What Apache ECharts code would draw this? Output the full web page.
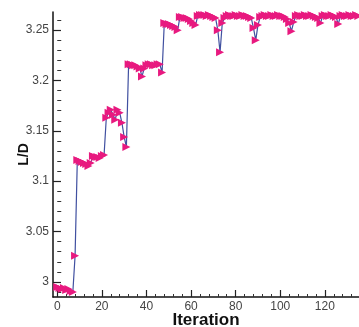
<!DOCTYPE html>
<html>
<head>
<meta charset="utf-8">
<script src="https://cdn.jsdelivr.net/npm/echarts@6/dist/echarts.min.js"></script>
<style>
  html, body { margin: 0; padding: 0; background: #fff; }
  #chart { width: 359px; height: 327px; }
</style>
</head>
<body>
<div id="chart"></div>
<script>
// L/D per iteration
const ldValues = [
  2.995, 2.994, 2.993, 2.994, 2.992, 2.993, 2.991, 2.990, 3.026, 3.121,
  3.120, 3.119, 3.118, 3.117, 3.115, 3.118, 3.125, 3.124, 3.124, 3.123,
  3.125, 3.126, 3.163, 3.168, 3.171, 3.166, 3.161, 3.171, 3.168, 3.158,
  3.144, 3.134, 3.216, 3.216, 3.215, 3.215, 3.214, 3.212, 3.204, 3.212,
  3.215, 3.216, 3.216, 3.215, 3.215, 3.216, 3.216, 3.208, 3.257, 3.256,
  3.256, 3.255, 3.254, 3.253, 3.250, 3.263, 3.263, 3.262, 3.262, 3.261,
  3.259, 3.257, 3.255, 3.264, 3.265, 3.265, 3.265, 3.264, 3.265, 3.264,
  3.263, 3.262, 3.250, 3.228, 3.257, 3.262, 3.264, 3.265, 3.264, 3.264,
  3.265, 3.264, 3.264, 3.265, 3.264, 3.264, 3.263, 3.262, 3.252, 3.240,
  3.255, 3.263, 3.264, 3.265, 3.264, 3.264, 3.265, 3.264, 3.264, 3.265,
  3.264, 3.264, 3.263, 3.261, 3.257, 3.249, 3.258, 3.264, 3.265, 3.264,
  3.264, 3.265, 3.264, 3.264, 3.265, 3.264, 3.263, 3.262, 3.257, 3.264,
  3.265, 3.264, 3.264, 3.265, 3.264, 3.263, 3.256, 3.264, 3.265, 3.264,
  3.264, 3.265, 3.264, 3.264, 3.265, 3.264
];
const iterations = ldValues.map((v, i) => i);

const yTicks = [3, 3.05, 3.1, 3.15, 3.2, 3.25];
const yMinorTicks = [2.99, 3.01, 3.02, 3.03, 3.04, 3.06, 3.07, 3.08, 3.09,
  3.11, 3.12, 3.13, 3.14, 3.16, 3.17, 3.18, 3.19, 3.21, 3.22, 3.23, 3.24, 3.26];
const xTicks = [0, 20, 40, 60, 80, 100, 120];
const xMinorTicks = [4, 8, 12, 16, 24, 28, 32, 36, 44, 48, 52, 56, 64, 68, 72, 76,
  84, 88, 92, 96, 104, 108, 112, 116, 124, 128, 132];

const Y_MIN = 2.985, Y_MAX = 3.268;
const X_MIN = -1.9, X_MAX = 135.3;

const myChart = echarts.init(document.getElementById("chart"));

const labelStyle = {
  color: "#444",
  fontSize: 12,
  fontFamily: "Liberation Sans, Arial, sans-serif"
};

myChart.setOption({
  animation: false,
  grid: { left: 53, right: 0, top: 12, bottom: 30, outerBoundsMode: "none", containLabel: false },
  xAxis: [
    {
      type: "value",
      min: X_MIN,
      max: X_MAX,
      name: "Iteration",
      nameLocation: "middle",
      nameGap: 15,
      nameMoveOverlap: false,
      nameTextStyle: {
        color: "#111",
        fontSize: 17,
        fontWeight: "bold",
        verticalAlign: "top",
        fontFamily: "Liberation Sans, Arial, sans-serif"
      },
      splitLine: { show: false },
      axisLine: { onZero: false, lineStyle: { color: "#111", width: 1.5 } },
      axisTick: {
        inside: true,
        length: 7,
        customValues: xTicks,
        lineStyle: { color: "#222", width: 1.2 }
      },
      axisLabel: Object.assign({ margin: 4, customValues: xTicks }, labelStyle)
    },
    {
      type: "value",
      min: X_MIN,
      max: X_MAX,
      position: "bottom",
      splitLine: { show: false },
      axisLine: { show: false },
      axisLabel: { show: false },
      axisTick: {
        inside: true,
        length: 3,
        customValues: xMinorTicks,
        lineStyle: { color: "#333", width: 1 }
      }
    }
  ],
  yAxis: [
    {
      type: "value",
      min: Y_MIN,
      max: Y_MAX,
      name: "L/D",
      nameLocation: "middle",
      nameGap: 22,
      nameMoveOverlap: false,
      nameTextStyle: {
        color: "#111",
        fontSize: 14,
        fontWeight: "bold",
        fontFamily: "Liberation Sans, Arial, sans-serif"
      },
      splitLine: { show: false },
      axisLine: { onZero: false, lineStyle: { color: "#111", width: 1.5 } },
      axisTick: {
        inside: true,
        length: 8,
        customValues: yTicks,
        lineStyle: { color: "#222", width: 1.2 }
      },
      axisLabel: Object.assign({
        margin: 4,
        customValues: yTicks,
        formatter: v => String(+v.toFixed(2))
      }, labelStyle)
    },
    {
      type: "value",
      min: Y_MIN,
      max: Y_MAX,
      position: "left",
      splitLine: { show: false },
      axisLine: { show: false },
      axisLabel: { show: false },
      axisTick: {
        inside: true,
        length: 4,
        customValues: yMinorTicks,
        lineStyle: { color: "#333", width: 1 }
      }
    }
  ],
  series: [
    {
      type: "line",
      data: iterations.map((x, i) => [x, ldValues[i]]),
      lineStyle: { color: "#4050a0", width: 1.2 },
      symbol: "triangle",
      symbolRotate: -90,
      symbolSize: 8,
      itemStyle: { color: "#e8197f" },
      showAllSymbol: true,
      clip: false
    }
  ]
});
</script>
</body>
</html>
